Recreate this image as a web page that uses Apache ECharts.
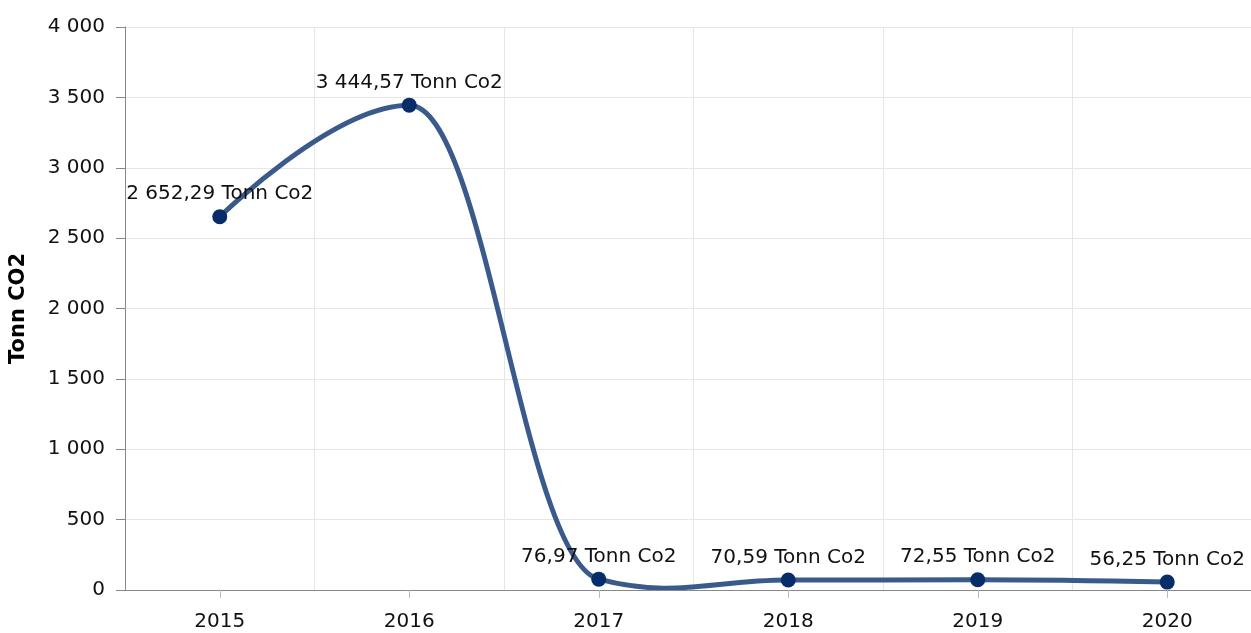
<!DOCTYPE html>
<html><head><meta charset="utf-8">
<script src="https://cdn.jsdelivr.net/npm/echarts@6/dist/echarts.min.js"></script>
<style>html,body{margin:0;padding:0;background:#fff}#c{width:1251px;height:633px}</style>
</head><body><div id="c"></div>
<script>
const categories = ['2015','2016','2017','2018','2019','2020'];
const values = [2652.29, 3444.57, 76.97, 70.59, 72.55, 56.25];
const yTicks = [0, 500, 1000, 1500, 2000, 2500, 3000, 3500, 4000];
const unit = 'Tonn Co2';
const yTitle = 'Tonn CO2';

function fmtThousands(n){ return String(n).replace(/\B(?=(\d{3})+(?!\d))/g, ' '); }
function fmtValue(v){
  const parts = v.toFixed(2).split('.');
  return fmtThousands(parts[0]) + ',' + parts[1];
}

// spline path built from pixel coords given by the axes
function splinePath(pts){
  const s = 1.5, den = s + 1, soft = 0.2;
  const rc = [], lc = [];
  let d = 'M' + pts[0][0] + ' ' + pts[0][1];
  for (let i = 1; i < pts.length - 1; i++){
    const [x, y] = pts[i];
    const [lx, ly] = pts[i-1], [nx, ny] = pts[i+1];
    let lcx = (s*x + lx)/den, lcy = (s*y + ly)/den;
    let rcx = (s*x + nx)/den, rcy = (s*y + ny)/den;
    let corr = ((rcy - lcy)*(rcx - x))/(rcx - lcx) + y - rcy;
    lcy += corr; rcy += corr;
    const extremum = (y - ly)*(y - ny) > 0;
    if (extremum){
      lcy = y; rcy = y;
    } else {
      // allow only a small overshoot beyond neighbours
      if ((rcy - ny)*(ny - y) > 0){ const b = ny; rcy = b + soft*(rcy - b); lcy = 2*y - rcy; }
      if ((lcy - ly)*(ly - y) > 0){ const b = ly; lcy = b + soft*(lcy - b); rcy = 2*y - lcy; }
    }
    lc[i] = [lcx, lcy]; rc[i] = [rcx, rcy];
  }
  for (let i = 1; i < pts.length; i++){
    const c1 = rc[i-1] || pts[i-1];
    const c2 = lc[i] || pts[i];
    d += ' C' + c1[0] + ' ' + c1[1] + ' ' + c2[0] + ' ' + c2[1] + ' ' + pts[i][0] + ' ' + pts[i][1];
  }
  return d;
}

const FONT = 'DejaVu Sans';
const chart = echarts.init(document.getElementById('c'), null, {renderer:'canvas'});
chart.setOption({
  animation:false,
  grid:{left:125, top:27, width:1137, height:563, outerBoundsMode:'none', containLabel:false},
  xAxis:{
    type:'category', data:categories, boundaryGap:true,
    axisLine:{lineStyle:{color:'#888', width:1}},
    axisTick:{show:true, alignWithLabel:true, length:8, lineStyle:{color:'#bbb'}},
    axisLabel:{color:'#111', fontFamily:FONT, fontSize:20, margin:22},
    splitLine:{show:true, lineStyle:{color:'#e6e6e6'}}
  },
  yAxis:{
    type:'value', min:yTicks[0], max:yTicks[yTicks.length-1], interval:500,
    name:yTitle, nameLocation:'middle', nameGap:96, nameRotate:90,
    nameTextStyle:{fontFamily:FONT, fontSize:21, fontWeight:'bold', color:'#000'},
    axisLine:{show:true, lineStyle:{color:'#888'}},
    axisTick:{show:true, length:9, lineStyle:{color:'#888'}},
    axisLabel:{color:'#111', fontFamily:FONT, fontSize:20, margin:20, formatter:v=>fmtThousands(v)},
    splitLine:{show:true, lineStyle:{color:'#e6e6e6'}}
  },
  series:[{
    type:'custom',
    data: values.map((v,i)=>[i, v]),
    renderItem:(params, api)=>{
      if (params.dataIndex !== 0) return null;
      const pts = values.map((v,i)=>api.coord([i, v]));
      return {type:'path', shape:{pathData:splinePath(pts)},
        style:{fill:'none', stroke:'#3a5a8c', lineWidth:5, lineJoin:'round', lineCap:'round'}};
    },
    clip:true, z:2, silent:true
  },{
    type:'scatter', data:values,
    itemStyle:{color:'#062c6a', opacity:1},
    symbol:'circle', symbolSize:15,
    label:{show:true, position:'top', distance:5, color:'#111', fontFamily:FONT, fontSize:20,
      formatter:p=>fmtValue(p.value)+' '+unit},
    z:3
  }]
});
</script></body></html>
